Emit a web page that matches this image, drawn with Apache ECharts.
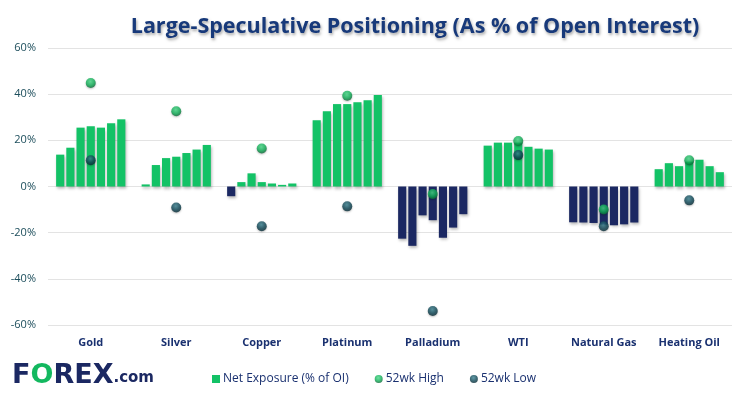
<!DOCTYPE html>
<html><head><meta charset="utf-8">
<script src="https://cdn.jsdelivr.net/npm/echarts@6/dist/echarts.min.js"></script>
<style>html,body{margin:0;padding:0;background:#fff}#c{width:742px;height:396px}</style>
</head><body><div id="c"></div>
<script>
var categories = ['Gold','Silver','Copper','Platinum','Palladium','WTI','Natural Gas','Heating Oil'];
var gold      = [13.8, 16.8, 25.5, 26.1, 25.5, 27.4, 29.1];
var silver    = [0.9, 9.3, 12.3, 12.9, 14.5, 16.0, 18.0];
var copper    = [-4.2, 1.9, 5.7, 1.9, 1.3, 0.7, 1.3];
var platinum  = [28.7, 32.6, 35.7, 35.7, 36.5, 37.4, 39.6];
var palladium = [-22.6, -25.7, -12.5, -14.6, -22.2, -17.8, -12.0];
var wti       = [17.7, 19.0, 19.0, 19.0, 17.2, 16.4, 16.0];
var natgas    = [-15.5, -15.6, -15.8, -16.5, -16.8, -16.4, -15.6];
var heatoil   = [7.5, 10.1, 8.8, 10.8, 11.6, 8.8, 6.2];
var high52 = [44.8, 32.6, 16.5, 39.3, -3.3, 19.7, -10.0, 11.4];
var low52  = [11.4, -9.1, -17.2, -8.6, -53.9, 13.6, -17.2, -6.0];
var yTicks = [-60, -40, -20, 0, 20, 40, 60];

var groups = [gold, silver, copper, platinum, palladium, wti, natgas, heatoil];
var GREEN = '#13c266', NAVY = '#1b2862';
var series = [];
for (var w = 0; w < 7; w++) {
  series.push({
    name: 'Net Exposure (% of OI)', type: 'bar',
    barGap: '25%', barCategoryGap: '19%',
    itemStyle: {color: GREEN, shadowColor: 'rgba(0,0,0,0.28)', shadowBlur: 3, shadowOffsetX: 1, shadowOffsetY: 2},
    data: groups.map(function (g) {
      var v = g[w];
      return v < 0 ? {value: v, itemStyle: {color: NAVY}} : v;
    })
  });
}
series.push({
  name: '52wk High', type: 'scatter', symbolSize: 10, z: 5,
  itemStyle: {color: {type: 'radial', x: 0.45, y: 0.35, r: 0.65, colorStops: [{offset: 0, color: '#48dc88'}, {offset: 0.6, color: '#0fae56'}, {offset: 1, color: '#0a6836'}]},
    shadowColor: 'rgba(0,0,0,0.3)', shadowBlur: 2, shadowOffsetY: 1},
  data: high52
});
series.push({
  name: '52wk Low', type: 'scatter', symbolSize: 10, z: 5,
  itemStyle: {color: {type: 'radial', x: 0.45, y: 0.35, r: 0.65, colorStops: [{offset: 0, color: '#3a8291'}, {offset: 0.6, color: '#0e4655'}, {offset: 1, color: '#072a34'}]},
    shadowColor: 'rgba(0,0,0,0.3)', shadowBlur: 2, shadowOffsetY: 1},
  data: low52
});

var chart = echarts.init(document.getElementById('c'), null, {renderer: 'canvas'});
chart.setOption({
  animation: false,
  backgroundColor: '#fff',
  title: {
    text: 'Large-Speculative Positioning (As % of Open Interest)',
    left: 410, top: 11, textAlign: 'center',
    textStyle: {fontFamily: 'Open Sans', fontWeight: 'bold', fontSize: 21.5, color: '#17397a',
      textShadowColor: 'rgba(0,0,0,0.35)', textShadowBlur: 3, textShadowOffsetX: 1, textShadowOffsetY: 2}
  },
  legend: {
    data: [{name: 'Net Exposure (% of OI)', icon: 'rect'}, {name: '52wk High', icon: 'circle'}, {name: '52wk Low', icon: 'circle'}],
    left: 207, top: 368, itemWidth: 8, itemHeight: 8, itemGap: 26,
    textStyle: {fontFamily: 'Open Sans', fontSize: 12, color: '#1a3170', padding: [0, 0, 0, -2]}
  },
  grid: {left: 48, right: 10, top: 48, bottom: 71},
  xAxis: {
    type: 'category', data: categories,
    axisLine: {show: false}, axisTick: {show: false},
    axisLabel: {fontFamily: 'Open Sans', fontWeight: 'bold', fontSize: 11, color: '#1a3170', margin: 12}
  },
  yAxis: {
    type: 'value', min: yTicks[0], max: yTicks[yTicks.length - 1], interval: 20,
    axisLine: {show: false}, axisTick: {show: false},
    axisLabel: {fontFamily: 'Open Sans', fontSize: 11, color: '#1d4e5c', margin: 12, formatter: '{value}%'},
    splitLine: {lineStyle: {color: '#e3e3e3', width: 1}}
  },
  graphic: [{
    type: 'text', left: 12, top: 362,
    style: {
      text: '{a|F}{b|O}{a|REX}{c|.com}',
      rich: {
        a: {fontFamily: 'DejaVu Sans', fontWeight: 'bold', fontSize: 27, fill: '#1b2862'},
        b: {fontFamily: 'DejaVu Sans', fontWeight: 'bold', fontSize: 27, fill: '#13b85f'},
        c: {fontFamily: 'DejaVu Sans', fontWeight: 'bold', fontSize: 15, fill: '#1b2862', padding: [6, 0, 0, 0]}
      }
    }
  }],
  series: series
});
</script></body></html>
